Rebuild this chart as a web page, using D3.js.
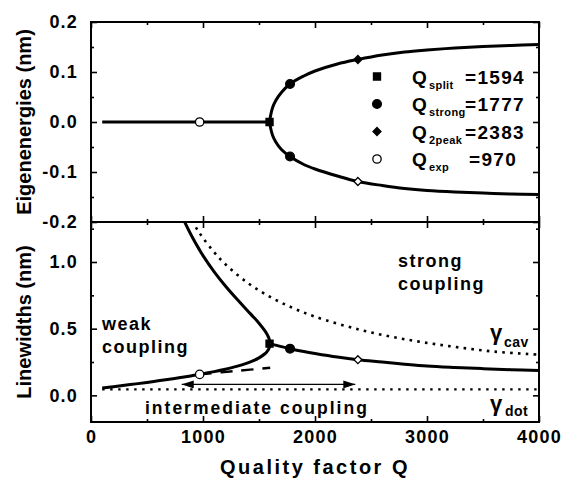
<!DOCTYPE html>
<html>
<head>
<meta charset="utf-8">
<script src="https://cdn.jsdelivr.net/npm/d3@7"></script>
<style>
  body { margin: 0; background: #fff; }
  svg text { font-family: "Liberation Sans", Arial, sans-serif; font-weight: bold; fill: #000; }
</style>
</head>
<body>
<svg id="chart" width="565" height="485"></svg>
<script>
// characteristic quality factors
var qSplit = 1594, qStrong = 1777, q2peak = 2383, qExp = 970;

// upper panel: eigenenergies
var qZero = [100, 1594];
var eZero = [0, 0];
var qBranch = [1594, 1600, 1620, 1650, 1700, 1777, 1900, 2000, 2200, 2383, 2600, 2800, 3000, 3250, 3500, 3750, 4000];
var eUpper = [0, 0.009, 0.028, 0.043, 0.059, 0.076, 0.092, 0.102, 0.116, 0.125, 0.134, 0.140, 0.144, 0.148, 0.151, 0.153, 0.155];
var eLower = [0, -0.008, -0.026, -0.040, -0.055, -0.069, -0.085, -0.094, -0.108, -0.119, -0.127, -0.133, -0.137, -0.140, -0.142, -0.144, -0.145];

// lower panel: linewidths
var qBroad = [830, 900, 970, 1000, 1100, 1200, 1300, 1400, 1450, 1500, 1550, 1575, 1590, 1594];
var wBroad = [1.311, 1.193, 1.089, 1.048, 0.926, 0.820, 0.724, 0.633, 0.588, 0.541, 0.487, 0.453, 0.425, 0.388];
var qNarrow = [100, 200, 300, 400, 500, 600, 700, 800, 900, 970, 1000, 1100, 1200, 1300, 1400, 1450, 1500, 1550, 1575, 1590, 1594];
var wNarrow = [0.055, 0.065, 0.076, 0.086, 0.097, 0.109, 0.121, 0.133, 0.147, 0.157, 0.162, 0.178, 0.196, 0.217, 0.244, 0.260, 0.281, 0.310, 0.332, 0.353, 0.388];
var qMerged = [1594, 1700, 1777, 1900, 2000, 2200, 2383, 2600, 2800, 3000, 3250, 3500, 3750, 4000];
var wMerged = [0.388, 0.365, 0.350, 0.329, 0.314, 0.287, 0.267, 0.250, 0.234, 0.220, 0.209, 0.200, 0.192, 0.186];
var qCav = [900, 950, 1000, 1100, 1200, 1400, 1600, 1800, 2000, 2400, 2800, 3200, 3600, 4000];
var gCav = [1.311, 1.242, 1.180, 1.073, 0.983, 0.843, 0.738, 0.656, 0.590, 0.492, 0.421, 0.369, 0.328, 0.305];
var qDot = [100, 4000];
var gDot = [0.045, 0.045];
var qDash = [970, 1300, 1600];
var wDash = [0.158, 0.183, 0.207];
var arrowQ = [810, 2360];
var arrowW = 0.082;

// ticks
var xTicks = [0, 1000, 2000, 3000, 4000];
var xMinor = [500, 1500, 2500, 3500];
var eTicks = [-0.2, -0.1, 0.0, 0.1, 0.2];
var eMinor = [-0.15, -0.05, 0.05, 0.15];
var wTicks = [0.0, 0.5, 1.0];
var wMinor = [0.25, 0.75, 1.25];

var legendNames = ["split", "strong", "2peak", "exp"];
var legendValues = [1594, 1777, 2383, 970];

var L = 91, R = 539, T = 22, MID = 222, B = 422;
var svg = d3.select("#chart");

var x = d3.scaleLinear().domain([0, 4000]).range([L, R]);
var yE = d3.scaleLinear().domain([-0.2, 0.2]).range([MID, T]);
var yW = d3.scaleLinear().domain([-0.2, 1.3]).range([B, MID]);

var defs = svg.append("defs");
defs.append("clipPath").attr("id", "clipW")
  .append("rect").attr("x", L).attr("y", MID).attr("width", R - L).attr("height", B - MID);
defs.append("marker").attr("id", "head").attr("viewBox", "0 0 12 8")
  .attr("refX", 12).attr("refY", 4).attr("markerWidth", 12).attr("markerHeight", 8)
  .attr("markerUnits", "userSpaceOnUse").attr("orient", "auto-start-reverse")
  .append("path").attr("d", "M0,0L12,4L0,8Z").attr("fill", "#000");

function fmt(d) { return d.toFixed(1); }

function styleAxis(g) {
  g.select(".domain").remove();
  g.selectAll(".tick line").attr("stroke", "#000").attr("stroke-width", 1.6);
  g.selectAll(".tick text").attr("font-size", 18).attr("letter-spacing", 1.2)
    .attr("font-family", "Liberation Sans, Arial, sans-serif").attr("font-weight", "bold");
}

function addAxis(axis, tx, ty) {
  svg.append("g").attr("transform", "translate(" + tx + "," + ty + ")").call(axis).call(styleAxis);
}

// upper panel axes
addAxis(d3.axisLeft(yE).tickValues(eTicks).tickSize(-6).tickPadding(13).tickFormat(fmt), L, 0);
addAxis(d3.axisLeft(yE).tickValues(eMinor).tickSize(-3).tickFormat(""), L, 0);
addAxis(d3.axisRight(yE).tickValues(eTicks).tickSize(-6).tickFormat(""), R, 0);
addAxis(d3.axisRight(yE).tickValues(eMinor).tickSize(-3).tickFormat(""), R, 0);
addAxis(d3.axisTop(x).tickValues(xTicks).tickSize(-6).tickFormat(""), 0, T);
addAxis(d3.axisTop(x).tickValues(xMinor).tickSize(-3).tickFormat(""), 0, T);
addAxis(d3.axisBottom(x).tickValues(xTicks).tickSize(-6).tickFormat(""), 0, MID);
addAxis(d3.axisBottom(x).tickValues(xMinor).tickSize(-3).tickFormat(""), 0, MID);

// lower panel axes
addAxis(d3.axisLeft(yW).tickValues(wTicks).tickSize(-6).tickPadding(13).tickFormat(fmt), L, 0);
addAxis(d3.axisLeft(yW).tickValues(wMinor).tickSize(-3).tickFormat(""), L, 0);
addAxis(d3.axisRight(yW).tickValues(wTicks).tickSize(-6).tickFormat(""), R, 0);
addAxis(d3.axisRight(yW).tickValues(wMinor).tickSize(-3).tickFormat(""), R, 0);
addAxis(d3.axisTop(x).tickValues(xTicks).tickSize(-6).tickFormat(""), 0, MID);
addAxis(d3.axisTop(x).tickValues(xMinor).tickSize(-3).tickFormat(""), 0, MID);
addAxis(d3.axisBottom(x).tickValues(xTicks).tickSize(-6).tickPadding(8).tickFormat(d3.format("d")), 0, B);
addAxis(d3.axisBottom(x).tickValues(xMinor).tickSize(-3).tickFormat(""), 0, B);

// frames
svg.append("rect").attr("x", L).attr("y", T).attr("width", R - L).attr("height", MID - T)
  .attr("fill", "none").attr("stroke", "#000").attr("stroke-width", 2);
svg.append("rect").attr("x", L).attr("y", MID).attr("width", R - L).attr("height", B - MID)
  .attr("fill", "none").attr("stroke", "#000").attr("stroke-width", 2);

function zip(qs, vs) { return qs.map(function(q, i) { return [q, vs[i]]; }); }

var lineE = d3.line().x(function(d) { return x(d[0]); }).y(function(d) { return yE(d[1]); })
  .curve(d3.curveCatmullRom.alpha(0.5));
var lineW = d3.line().x(function(d) { return x(d[0]); }).y(function(d) { return yW(d[1]); })
  .curve(d3.curveCatmullRom.alpha(0.5));

// eigenenergies
var gE = svg.append("g");
gE.append("path").attr("d", lineE(zip(qZero, eZero)))
  .attr("fill", "none").attr("stroke", "#000").attr("stroke-width", 2.8);
gE.append("path").attr("d", lineE(zip(qBranch, eUpper).reverse().concat(zip(qBranch, eLower).slice(1))))
  .attr("fill", "none").attr("stroke", "#000").attr("stroke-width", 3);

// linewidths
var gW = svg.append("g").attr("clip-path", "url(#clipW)");
gW.append("path").attr("d", lineW(zip(qCav, gCav)))
  .attr("fill", "none").attr("stroke", "#000").attr("stroke-width", 2.6).attr("stroke-dasharray", "2.6,5.2");
gW.append("path").attr("d", lineW(zip(qDot, gDot)))
  .attr("fill", "none").attr("stroke", "#000").attr("stroke-width", 2.4).attr("stroke-dasharray", "2.4,5.6");
gW.append("path").attr("d", lineW(zip(qBroad, wBroad).concat(zip(qNarrow, wNarrow).reverse().slice(1))))
  .attr("fill", "none").attr("stroke", "#000").attr("stroke-width", 3);
gW.append("path").attr("d", lineW(zip(qMerged, wMerged)))
  .attr("fill", "none").attr("stroke", "#000").attr("stroke-width", 3);
gW.append("path").attr("d", lineW(zip(qDash, wDash)))
  .attr("fill", "none").attr("stroke", "#000").attr("stroke-width", 2.4).attr("stroke-dasharray", "12,9");
gW.append("line")
  .attr("x1", x(arrowQ[0])).attr("x2", x(arrowQ[1])).attr("y1", yW(arrowW)).attr("y2", yW(arrowW))
  .attr("stroke", "#000").attr("stroke-width", 1.3)
  .attr("marker-start", "url(#head)").attr("marker-end", "url(#head)");

// markers
function valueAt(qs, vs, q) { return vs[qs.indexOf(q)]; }
var symbolDefs = {
  split: { type: d3.symbolSquare, size: 50, fill: "#000" },
  strong: { type: d3.symbolCircle, size: 60, fill: "#000" },
  peak: { type: d3.symbolDiamond2, size: 40, fill: "#000" },
  peakOpen: { type: d3.symbolDiamond2, size: 40, fill: "#fff" },
  exp: { type: d3.symbolCircle, size: 55, fill: "#fff" }
};
function drawSymbol(kind, px, py) {
  var s = symbolDefs[kind];
  svg.append("path").attr("d", d3.symbol().type(s.type).size(s.size)())
    .attr("transform", "translate(" + px + "," + py + ")")
    .attr("fill", s.fill).attr("stroke", "#000").attr("stroke-width", 1.3);
}
drawSymbol("exp", x(qExp), yE(0));
drawSymbol("split", x(qSplit), yE(0));
drawSymbol("strong", x(qStrong), yE(valueAt(qBranch, eUpper, qStrong)));
drawSymbol("strong", x(qStrong), yE(valueAt(qBranch, eLower, qStrong)));
drawSymbol("peak", x(q2peak), yE(valueAt(qBranch, eUpper, q2peak)));
drawSymbol("peakOpen", x(q2peak), yE(valueAt(qBranch, eLower, q2peak)));
drawSymbol("exp", x(qExp), yW(valueAt(qNarrow, wNarrow, qExp)));
drawSymbol("split", x(qSplit), yW(valueAt(qMerged, wMerged, qSplit)));
drawSymbol("strong", x(qStrong), yW(valueAt(qMerged, wMerged, qStrong)));
drawSymbol("peakOpen", x(q2peak), yW(valueAt(qMerged, wMerged, q2peak)));

// legend
var legendKinds = ["split", "strong", "peak", "exp"];
var legendBase = [83.5, 111, 138.5, 166];
var eqX = [465, 465, 465, 469];
legendNames.forEach(function(name, i) {
  drawSymbol(legendKinds[i], 377, legendBase[i] - 7);
  svg.append("text").attr("x", 412).attr("y", legendBase[i]).attr("font-size", 19).text("Q");
  svg.append("text").attr("x", 429).attr("y", legendBase[i] + 5).attr("font-size", 11).attr("letter-spacing", 0.4).text(name);
  svg.append("text").attr("x", eqX[i]).attr("y", legendBase[i]).attr("font-size", 19).attr("letter-spacing", 1.3)
    .text("=" + legendValues[i]);
});

// annotations
function label(txt, px, py, size, spacing) {
  return svg.append("text").attr("x", px).attr("y", py).attr("font-size", size)
    .attr("letter-spacing", spacing).text(txt);
}
label("weak", 102, 330, 18, 1.5);
label("coupling", 102, 353, 18, 1.5);
label("strong", 398, 267, 18, 1.5);
label("coupling", 398, 290, 18, 1.5);
label("intermediate coupling", 145, 414, 17.5, 2);
label("\u03b3", 490, 340, 22, 0);
label("cav", 504, 347, 14, 0.5);
label("\u03b3", 490, 411, 22, 0);
label("dot", 505, 416, 14, 0.5);

// axis titles
svg.append("text").attr("transform", "translate(31," + ((T + MID) / 2) + ") rotate(-90)")
  .attr("text-anchor", "middle").attr("font-size", 20).text("Eigenenergies (nm)");
svg.append("text").attr("transform", "translate(31," + ((MID + B) / 2) + ") rotate(-90)")
  .attr("text-anchor", "middle").attr("font-size", 20).text("Linewidths (nm)");
svg.append("text").attr("x", (L + R) / 2).attr("y", 474).attr("text-anchor", "middle")
  .attr("font-size", 20).attr("letter-spacing", 2.5).text("Quality factor Q");
</script>
</body>
</html>
